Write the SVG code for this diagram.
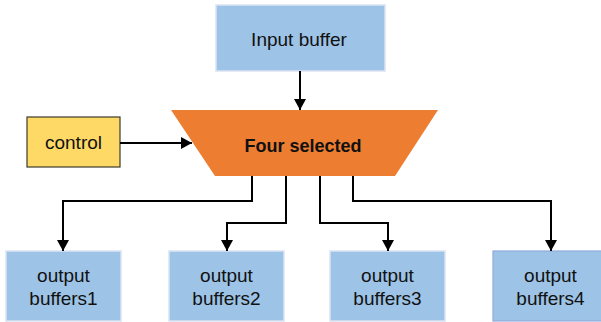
<svg xmlns="http://www.w3.org/2000/svg" width="601" height="322" viewBox="0 0 601 322">
<defs>
<marker id="ah" markerUnits="userSpaceOnUse" markerWidth="12" markerHeight="12" refX="11" refY="6" orient="auto">
<path d="M0,0 L11,6 L0,12 z" fill="#000"/>
</marker>
<style>
.buf{fill:#9DC3E6;stroke:#DAE3F3;stroke-width:1.5}
.t{font-family:"Liberation Sans",Arial,sans-serif;font-size:19px;fill:#111;text-anchor:middle}
.b{font-weight:bold;font-size:18px}
.c{fill:none;stroke:#000;stroke-width:2;marker-end:url(#ah)}
</style>
</defs>
<rect width="601" height="322" fill="#fff"/>
<g id="input">
<rect class="buf" x="216" y="5" width="169" height="66"/>
<text class="t" x="299" y="46">Input buffer</text>
</g>
<g id="control">
<rect x="27" y="117" width="93" height="50" fill="#FFD966" stroke="#3B3B2A" stroke-width="1.2"/>
<text class="t" x="73.5" y="149">control</text>
</g>
<g id="selector">
<polygon points="171,110 438,110 395,176 215,176" fill="#ED7D31"/>
<text class="t b" x="303" y="152">Four selected</text>
</g>
<g id="out1">
<rect class="buf" x="6" y="251" width="115" height="70"/>
<text class="t" x="63.5" y="282">output</text>
<text class="t" x="63.5" y="305">buffers1</text>
</g>
<g id="out2">
<rect class="buf" x="169" y="251" width="115" height="70"/>
<text class="t" x="226.5" y="282">output</text>
<text class="t" x="226.5" y="305">buffers2</text>
</g>
<g id="out3">
<rect class="buf" x="330" y="251" width="115" height="70"/>
<text class="t" x="387.5" y="282">output</text>
<text class="t" x="387.5" y="305">buffers3</text>
</g>
<g id="out4">
<rect x="493" y="251" width="115" height="70" fill="#9DC3E6" stroke="#8FAADC" stroke-width="1.2"/>
<text class="t" x="550.5" y="282">output</text>
<text class="t" x="550.5" y="305">buffers4</text>
</g>
<g id="connectors">
<path class="c" d="M300,71 L300,110"/>
<path class="c" d="M120,143 L192,143"/>
<path class="c" d="M252,176 L252,201 L63,201 L63,251"/>
<path class="c" d="M286,176 L286,223 L227,223 L227,251"/>
<path class="c" d="M320,176 L320,223 L388,223 L388,251"/>
<path class="c" d="M353,176 L353,201 L551,201 L551,251"/>
</g>
</svg>
